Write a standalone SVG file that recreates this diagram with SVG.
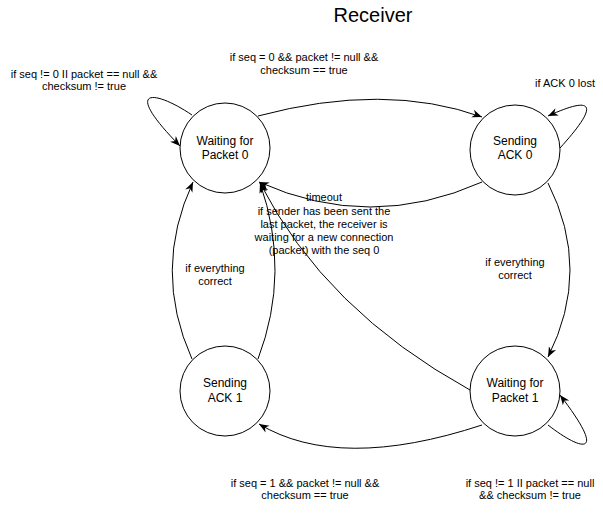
<svg xmlns="http://www.w3.org/2000/svg" width="603" height="519" viewBox="0 0 603 519">
<style>
.node{fill:#fff;stroke:#000;stroke-width:1}
.edge{fill:none;stroke:#000;stroke-width:1;marker-end:url(#arr)}
text{font-family:"Liberation Sans",Arial,sans-serif;fill:#000;text-anchor:middle}
.n{font-size:12px}
.l{font-size:11px}
</style>
<defs>
<marker id="arr" markerUnits="userSpaceOnUse" markerWidth="12" markerHeight="10" refX="10" refY="4" orient="auto" viewBox="0 0 12 8">
<path d="M0,0 L10,4 L0,8 L3,4 z" fill="#000"/>
</marker>
</defs>
<rect width="603" height="519" fill="#fff"/>
<text x="373" y="22" style="font-size:20px">Receiver</text>
<g id="connectors">
<path class="edge" d="M258,116 Q385,82 482,117"/>
<path class="edge" d="M560,148 C590,115 605,90 548,116"/>
<path class="edge" d="M192,115 C155,90 120,85 180,146"/>
<path class="edge" d="M482,182 Q370,232 259,182"/>
<path class="edge" d="M470,390 Q325,310 260,183"/>
<path class="edge" d="M548,183 Q592,270 548,357"/>
<path class="edge" d="M548,425 C580,450 610,460 560,395"/>
<path class="edge" d="M482,425 Q339,472 259,424"/>
<path class="edge" d="M192,359 Q152,270 193,182"/>
<path class="edge" d="M258,359 Q291,272 260,183"/>
</g>
<g id="labels">
<text class="l" x="84" y="78">if seq != 0 II packet == null &amp;&amp;</text>
<text class="l" x="84" y="90">checksum != true</text>
<text class="l" x="304" y="61">if seq = 0 &amp;&amp; packet != null &amp;&amp;</text>
<text class="l" x="304" y="74">checksum == true</text>
<text class="l" x="565" y="87">if ACK 0 lost</text>
<text class="l" x="324" y="201">timeout</text>
<text class="l" x="324" y="215">if sender has been sent the</text>
<text class="l" x="324" y="228">last packet, the receiver is</text>
<text class="l" x="324" y="241">waiting for a new connection</text>
<text class="l" x="324" y="254">(packet) with the seq 0</text>
<text class="l" x="215" y="272">if everything</text>
<text class="l" x="215" y="285">correct</text>
<text class="l" x="515" y="266">if everything</text>
<text class="l" x="515" y="279">correct</text>
<text class="l" x="305" y="487">if seq = 1 &amp;&amp; packet != null &amp;&amp;</text>
<text class="l" x="305" y="499">checksum == true</text>
<text class="l" x="530" y="487">if seq != 1 II packet == null</text>
<text class="l" x="530" y="499">&amp;&amp; checksum != true</text>
</g>
<g id="wp0">
<circle class="node" cx="225" cy="148" r="45"/>
<text class="n" x="225" y="145">Waiting for</text>
<text class="n" x="225" y="159">Packet 0</text>
</g>
<g id="sa0">
<circle class="node" cx="515" cy="150" r="45"/>
<text class="n" x="515" y="145">Sending</text>
<text class="n" x="515" y="159">ACK 0</text>
</g>
<g id="sa1">
<circle class="node" cx="225" cy="391" r="45"/>
<text class="n" x="225" y="387">Sending</text>
<text class="n" x="225" y="402">ACK 1</text>
</g>
<g id="wp1">
<circle class="node" cx="515" cy="391" r="45"/>
<text class="n" x="515" y="387">Waiting for</text>
<text class="n" x="515" y="402">Packet 1</text>
</g>
</svg>
